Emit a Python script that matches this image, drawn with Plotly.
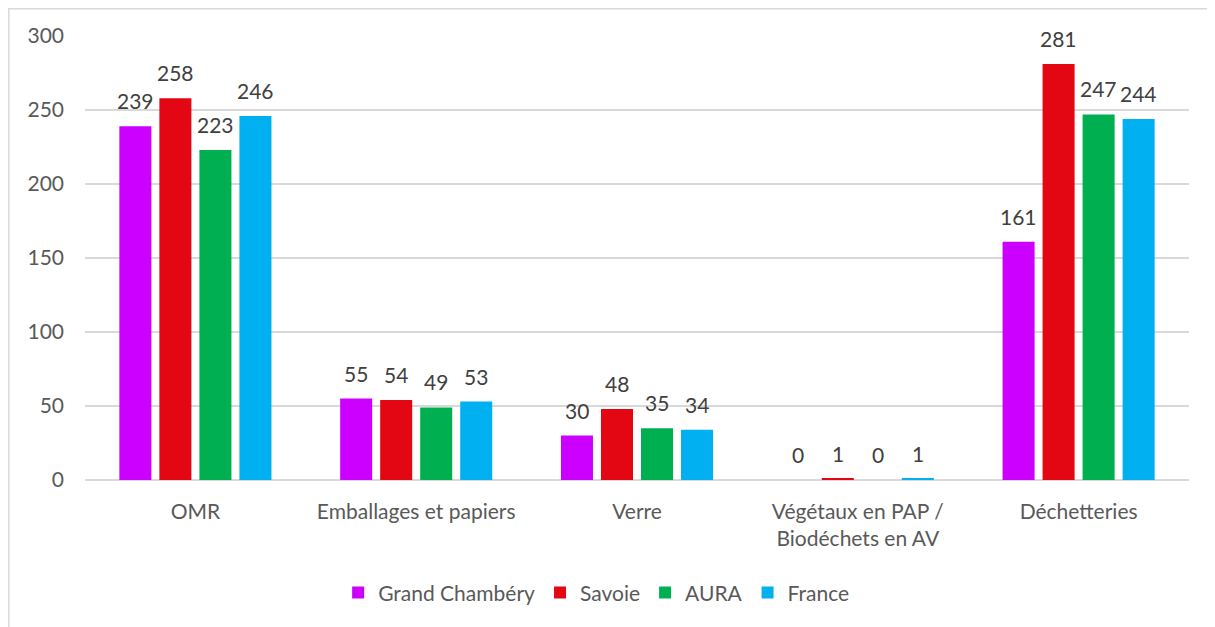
import plotly.graph_objects as go

categories = ["OMR", "Emballages et papiers", "Verre", "Végétaux en PAP /<br>Biodéchets en AV", "Déchetteries"]
series_names = ["Grand Chambéry", "Savoie", "AURA", "France"]
grand_chambery = [239, 55, 30, 0, 161]
savoie = [258, 54, 48, 1, 281]
aura = [223, 49, 35, 0, 247]
france = [246, 53, 34, 1, 244]
colors = ["#CC00FF", "#E30613", "#00B050", "#00B0F0"]

FONT = "Lato"
FS = 21
W, H = 1207, 619  # page body has an 8px margin
ML, MR, MT, MB = 77, 26, 28, 147
PW = W - ML - MR
PH = H - MT - MB

fig = go.Figure()
all_vals = [grand_chambery, savoie, aura, france]
for name, vals, col in zip(series_names, all_vals, colors):
    fig.add_trace(go.Bar(
        x=categories, y=vals, name=name,
        marker=dict(color=col, line=dict(width=0)),
    ))

# data labels above each bar (grouped offsets in pixels: bar step = slot width)
slot_px = PW / len(categories) * (1 - 0.275) / len(series_names)
annotations = []
for i, vals in enumerate(all_vals):
    for cat, v in zip(categories, vals):
        annotations.append(dict(
            x=cat, y=v, xref="x", yref="y", text=str(v), showarrow=False,
            xanchor="center", yanchor="bottom",
            xshift=(i - 1.5) * slot_px, yshift=11,
            font=dict(family=FONT, size=FS, color="#404040"),
        ))

fig.update_layout(
    width=W, height=H,
    margin=dict(l=ML, r=MR, t=MT, b=MB),
    paper_bgcolor="white", plot_bgcolor="white",
    barmode="group", bargap=0.275, bargroupgap=0.2,
    font=dict(family=FONT, size=FS, color="#595959"),
    showlegend=True,
    legend=dict(orientation="h", x=0.463, xanchor="center", y=-0.254, yanchor="middle",
                font=dict(family=FONT, size=FS, color="#595959"), itemwidth=30,
                traceorder="normal"),
    xaxis=dict(showgrid=False, showline=False, ticks="", ticklabelstandoff=17,
               tickfont=dict(family=FONT, size=FS, color="#595959")),
    yaxis=dict(range=[0, 300], dtick=50, showgrid=True, gridcolor="#D9D9D9", gridwidth=1.5,
               zeroline=True, zerolinecolor="#D9D9D9", zerolinewidth=1.5,
               showline=False, ticks="", ticklabelstandoff=20,
               tickfont=dict(family=FONT, size=FS, color="#595959")),
    annotations=annotations,
    shapes=[
        dict(type="line", xref="paper", yref="paper",
             x0=-ML / PW, x1=1 + MR / PW, y0=1 + (MT - 0.8) / PH, y1=1 + (MT - 0.8) / PH,
             line=dict(color="#D9D9D9", width=1.5)),
        dict(type="line", xref="paper", yref="paper",
             x0=-(ML - 0.8) / PW, x1=-(ML - 0.8) / PW, y0=-MB / PH, y1=1 + MT / PH,
             line=dict(color="#D9D9D9", width=1.5)),
    ],
)

fig.write_html("out.html")
